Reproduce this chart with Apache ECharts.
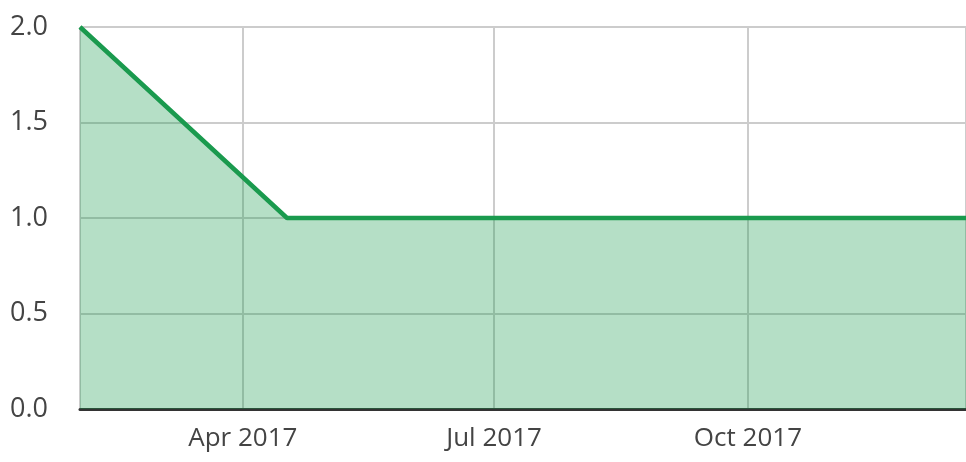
<!DOCTYPE html>
<html>
<head>
<meta charset="utf-8">
<script src="https://cdn.jsdelivr.net/npm/echarts@6/dist/echarts.min.js"></script>
<style>
  html, body { margin: 0; padding: 0; background: #fff; }
  #chart { width: 966px; height: 462px; }
</style>
</head>
<body>
<div id="chart"></div>
<script>
// data points
const dates = ['2017-02-01', '2017-04-17', '2017-12-19'];
const values = [2, 1, 1];
const yTicks = [0, 0.5, 1, 1.5, 2];
const monthNames = ['Jan', 'Feb', 'Mar', 'Apr', 'May', 'Jun', 'Jul', 'Aug', 'Sep', 'Oct', 'Nov', 'Dec'];

const chart = echarts.init(document.getElementById('chart'));

const option = {
  animation: false,
  textStyle: { fontFamily: 'Open Sans' },
  grid: { left: 80, right: 0, top: 27, bottom: 53 },
  xAxis: {
    type: 'time',
    min: dates[0],
    max: dates[dates.length - 1],
    splitNumber: 3,
    axisLine: { show: true, lineStyle: { color: '#333', width: 3 } },
    axisTick: { show: false },
    axisLabel: {
      color: '#444',
      fontSize: 26,
      margin: 17,
      showMinLabel: false,
      showMaxLabel: false,
      formatter: function (v) {
        const d = new Date(v);
        return monthNames[d.getMonth()] + ' ' + d.getFullYear();
      },
    },
    splitLine: { show: true, lineStyle: { color: '#ccc', width: 2 } },
  },
  yAxis: {
    type: 'value',
    min: yTicks[0],
    max: yTicks[yTicks.length - 1],
    interval: 0.5,
    axisLine: { show: false },
    axisTick: { show: false },
    axisLabel: {
      color: '#444',
      fontSize: 27,
      margin: 32,
      formatter: v => v.toFixed(1),
    },
    splitLine: { lineStyle: { color: '#ccc', width: 2 } },
  },
  series: [
    {
      type: 'line',
      data: dates.map((d, i) => [d, values[i]]),
      showSymbol: false,
      lineStyle: { color: '#1a9a4e', width: 4.5 },
      itemStyle: { color: '#1a9a4e' },
      areaStyle: { color: '#1a9a4e', opacity: 0.32 },
    },
  ],
};

chart.setOption(option);
</script>
</body>
</html>
